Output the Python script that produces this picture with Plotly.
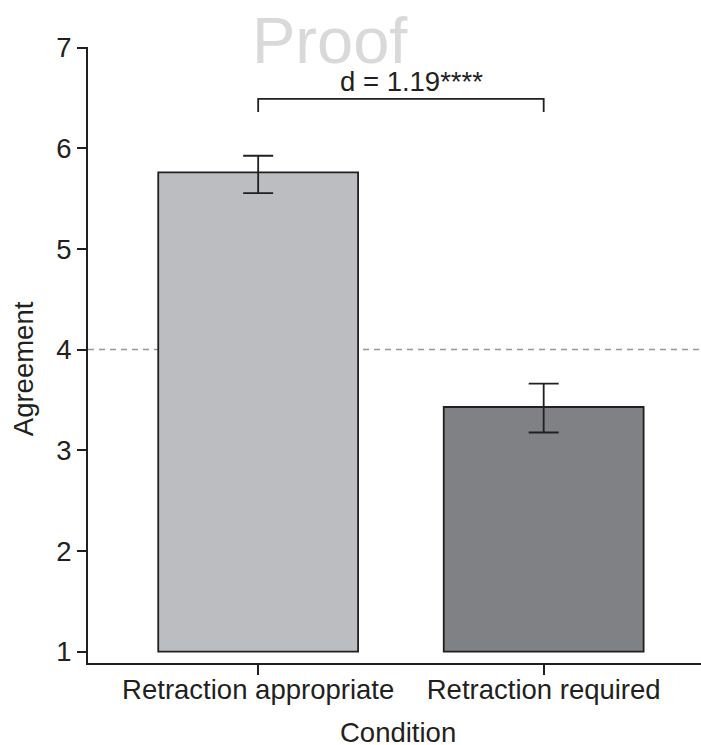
import plotly.graph_objects as go

# Mean agreement by condition, with asymmetric confidence limits
conditions = ["Retraction appropriate", "Retraction required"]
means = [5.76, 3.43]
ci_upper = [5.925, 3.663]
ci_lower = [5.554, 3.177]
bar_colors = ["#bcbdc1", "#808184"]

scale_floor = 1          # bottom of the 1-7 agreement scale
midpoint = 4             # neutral point of the scale
y_ticks = [1, 2, 3, 4, 5, 6, 7]

# Significance bracket between the two conditions
bracket_level = 6.49
bracket_drop = 6.36
effect_label = "d = 1.19****"

ink = "#231f20"
font_family = "Liberation Sans, Arial, sans-serif"
fs = 27.5

fig = go.Figure()

fig.add_trace(go.Bar(
    x=conditions,
    y=[m - scale_floor for m in means],
    base=scale_floor,
    width=0.70,
    marker=dict(color=bar_colors, line=dict(color=ink, width=1.8)),
    hoverinfo="skip",
))

fig.add_trace(go.Scatter(
    x=conditions,
    y=means,
    mode="markers",
    marker=dict(size=1, color="rgba(0,0,0,0)"),
    error_y=dict(
        type="data",
        symmetric=False,
        array=[u - m for u, m in zip(ci_upper, means)],
        arrayminus=[m - l for m, l in zip(means, ci_lower)],
        color=ink,
        thickness=1.8,
        width=15,
    ),
    hoverinfo="skip",
))

# neutral reference line
fig.add_shape(type="line", xref="paper", yref="y", x0=0, x1=1,
              y0=midpoint, y1=midpoint,
              line=dict(color="#999999", width=1.5, dash="6px,5px"), layer="below")

# bracket
fig.add_trace(go.Scatter(
    x=[conditions[0], conditions[0], conditions[1], conditions[1]],
    y=[bracket_drop, bracket_level, bracket_level, bracket_drop],
    mode="lines",
    line=dict(color=ink, width=1.8),
    hoverinfo="skip",
))

fig.add_annotation(
    x=0.537, y=bracket_level, xref="x", yref="y",
    text=effect_label, showarrow=False, yanchor="bottom",
    font=dict(size=fs, color=ink, family=font_family),
)

fig.add_annotation(
    x=0.395, y=1.01, xref="paper", yref="paper",
    text="Proof", showarrow=False, yanchor="middle",
    font=dict(size=65, color="#d9d9d9", family=font_family),
)

# axis titles
fig.add_annotation(
    x=0.506, y=-0.084, xref="paper", yref="paper",
    text="Condition", showarrow=False, yanchor="top",
    font=dict(size=fs, color=ink, family=font_family),
)
fig.add_annotation(
    x=-0.106, y=0.477, xref="paper", yref="paper",
    text="Agreement", showarrow=False, textangle=-90, xanchor="center",
    font=dict(size=fs, color=ink, family=font_family),
)

fig.update_layout(
    width=701, height=745,
    margin=dict(l=88, r=0, t=47, b=82),
    plot_bgcolor="white", paper_bgcolor="white",
    showlegend=False,
    font=dict(family=font_family, size=fs, color=ink),
    xaxis=dict(
        type="category",
        range=[-0.596, 1.551],
        showline=True, linecolor=ink, linewidth=1.8,
        ticks="outside", ticklen=10, tickwidth=1.5, tickcolor=ink,
        showgrid=False, zeroline=False,
        tickfont=dict(size=fs, color=ink),
        ticklabelstandoff=-9,
    ),
    yaxis=dict(
        range=[0.888, 7.005],
        tickvals=y_ticks,
        showline=True, linecolor=ink, linewidth=1.8,
        ticks="outside", ticklen=9, tickwidth=1.5, tickcolor=ink,
        showgrid=False, zeroline=False,
        tickfont=dict(size=fs, color=ink),
    ),
)

fig.write_html("out.html")
